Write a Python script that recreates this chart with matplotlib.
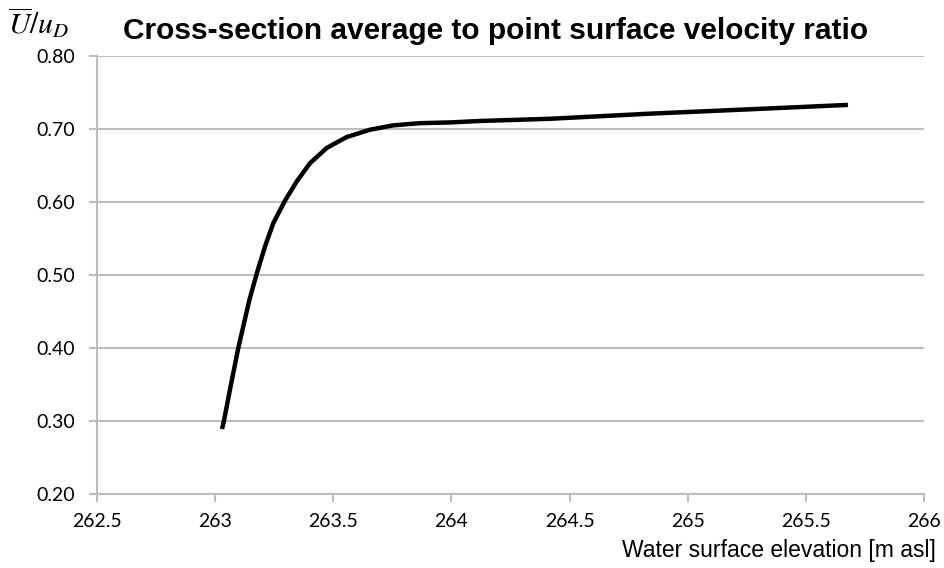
import numpy as np
import matplotlib
matplotlib.use("Agg")
import matplotlib.pyplot as plt

# values
elevation = [263.029, 263.037, 263.067, 263.098, 263.145, 263.176, 263.211,
             263.246, 263.296, 263.345, 263.401, 263.472, 263.557, 263.655,
             263.754, 263.867, 263.994, 264.121, 264.417, 264.840, 265.263,
             265.678]
ratio = [0.289, 0.300, 0.350, 0.400, 0.466, 0.502, 0.539,
         0.571, 0.602, 0.628, 0.653, 0.674, 0.689, 0.699,
         0.705, 0.708, 0.709, 0.711, 0.714, 0.721, 0.727, 0.733]

xticks = [262.5, 263, 263.5, 264, 264.5, 265, 265.5, 266]
xticklabels = ['262.5', '263', '263.5', '264', '264.5', '265', '265.5', '266']
yticks = [0.2, 0.3, 0.4, 0.5, 0.6, 0.7, 0.8]
yticklabels = ['0.20', '0.30', '0.40', '0.50', '0.60', '0.70', '0.80']

plt.rcParams['mathtext.fontset'] = 'stix'

fig = plt.figure(figsize=(9.44, 5.68), dpi=100)
ax = fig.add_axes([97/944, 1-494/568, (924-97)/944, (494-56)/568])

ax.plot(elevation, ratio, color='black', linewidth=3.2, solid_capstyle='butt')

ax.set_xlim(262.5, 266)
ax.set_ylim(0.2, 0.8)
ax.set_xticks(xticks)
ax.set_xticklabels(xticklabels, fontfamily='Lato', fontsize=14)
ax.set_yticks(yticks)
ax.set_yticklabels(yticklabels, fontfamily='Lato', fontsize=14)
ax.grid(True, axis='y', color='#bdbdbd', linewidth=1.5)
ax.set_axisbelow(True)

for s in ['top', 'right']:
    ax.spines[s].set_visible(False)
for s in ['left', 'bottom']:
    ax.spines[s].set_color('#bdbdbd')
    ax.spines[s].set_linewidth(1.5)
ax.tick_params(colors='#bdbdbd', width=1.5, length=6, labelcolor='black')
ax.tick_params(axis='x', pad=8)
ax.tick_params(axis='y', pad=10)

fig.text(496/944, 1-31/568, 'Cross-section average to point surface velocity ratio',
         ha='center', va='center', fontsize=21.5, fontweight='bold',
         fontfamily='Liberation Sans')
fig.text(8/944, 1-23/568, r'$\overline{U}/u_D$', ha='left', va='center', fontsize=21.5)
fig.text(936/944, 1-551/568, 'Water surface elevation [m asl]', ha='right',
         va='center', fontsize=16.5, fontfamily='Liberation Sans')

plt.savefig('out.png', dpi=100)
